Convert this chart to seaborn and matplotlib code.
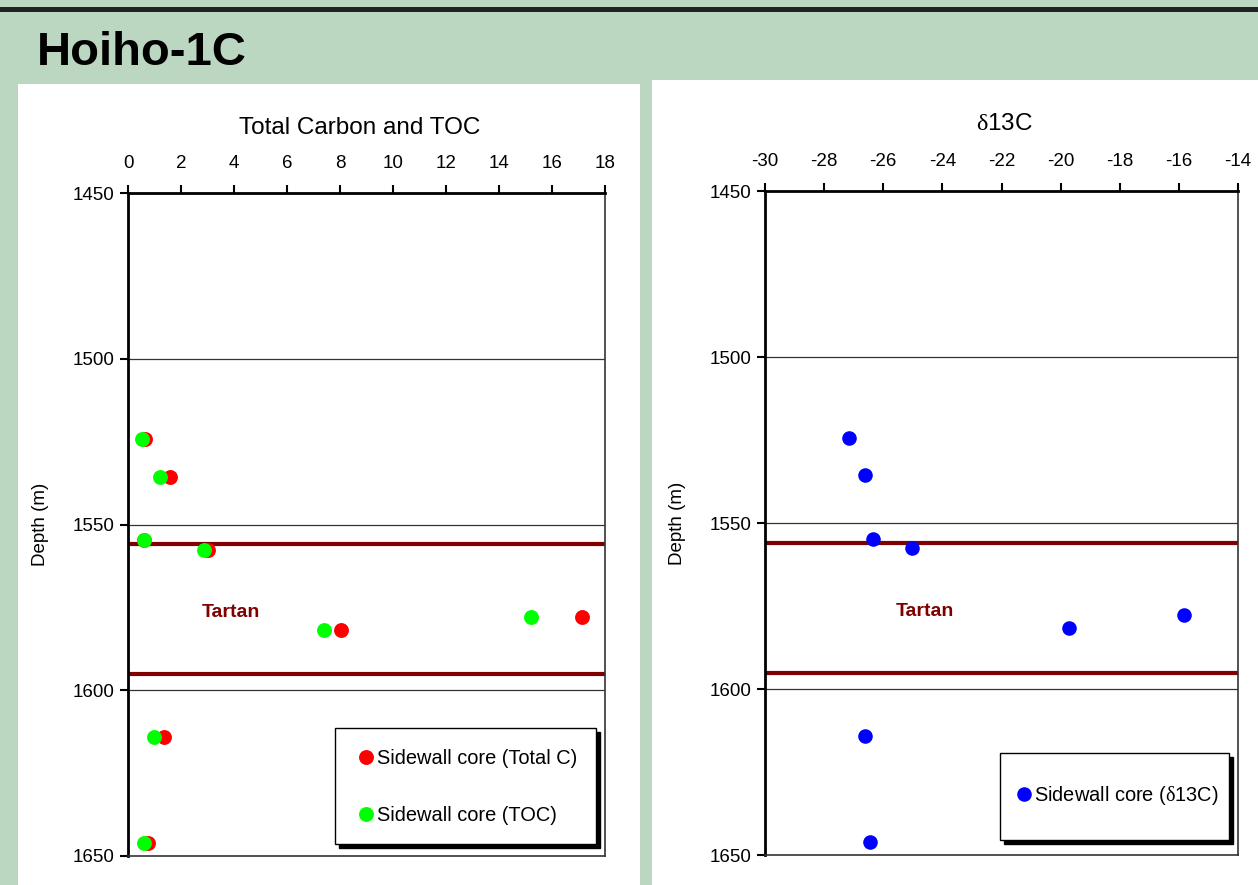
import matplotlib
matplotlib.use("Agg")
import matplotlib.pyplot as plt
from matplotlib.patches import Rectangle
import seaborn as sns
import pandas as pd

# Sidewall core measurements, Hoiho-1C
depth_m = [1524.3, 1535.6, 1554.7, 1557.6, 1581.7, 1577.8, 1614.1, 1646.0]
total_c = [0.64, 1.58, 0.60, 3.02, 8.04, 17.14, 1.37, 0.77]
toc = [0.53, 1.21, 0.60, 2.87, 7.40, 15.21, 0.97, 0.60]
delta13c = [-27.16, -26.62, -26.35, -25.03, -19.72, -15.83, -26.62, -26.45]

# Tartan formation top/base (m)
tartan_top = 1556.0
tartan_base = 1595.2

depth_ticks = [1450, 1500, 1550, 1600, 1650]
carbon_ticks = [0, 2, 4, 6, 8, 10, 12, 14, 16, 18]
delta_ticks = [-30, -28, -26, -24, -22, -20, -18, -16, -14]

sns.set_style("white")
plt.rcParams["font.family"] = ["Liberation Sans", "DejaVu Sans"]
plt.rcParams["mathtext.fontset"] = "custom"
plt.rcParams["mathtext.rm"] = "Liberation Serif"
plt.rcParams["axes.unicode_minus"] = False
plt.rcParams["text.color"] = "black"
plt.rcParams["axes.labelcolor"] = "black"
plt.rcParams["xtick.color"] = "black"
plt.rcParams["ytick.color"] = "black"

BG = "#BBD7C1"
DARK_RED = "#800000"

fig = plt.figure(figsize=(12.58, 8.85), dpi=100, facecolor=BG)
W, H = 1258, 885


def fx(px):
    return px / W


def fy(py):
    return 1 - py / H


# page furniture: header rule and white panels
for rect in (
    Rectangle((0, fy(12)), 1, fy(7) - fy(12), facecolor="#222222"),
    Rectangle((fx(18), 0), fx(640) - fx(18), fy(84), facecolor="white"),
    Rectangle((fx(652), 0), 1 - fx(652), fy(80), facecolor="white"),
):
    rect.set_transform(fig.transFigure)
    rect.set_edgecolor("none")
    rect.set_zorder(-5)
    fig.patches.append(rect)

fig.text(fx(37), fy(65), "Hoiho-1C", fontsize=34, fontweight="bold", color="black",
         ha="left", va="baseline")

ax1 = fig.add_axes([fx(128), fy(856), fx(605) - fx(128), fy(193) - fy(856)])
ax2 = fig.add_axes([fx(765), fy(855), fx(1238) - fx(765), fy(191) - fy(855)])

df = pd.DataFrame({"depth": depth_m, "total_c": total_c, "toc": toc, "d13c": delta13c})

sns.scatterplot(data=df, x="total_c", y="depth", ax=ax1, color="#FF0000", s=115,
                linewidth=0, label="Sidewall core (Total C)", zorder=5)
sns.scatterplot(data=df, x="toc", y="depth", ax=ax1, color="#00FF00", s=115,
                linewidth=0, label="Sidewall core (TOC)", zorder=6)
sns.scatterplot(data=df, x="d13c", y="depth", ax=ax2, color="#0000FF", s=110,
                linewidth=0, label=r"Sidewall core ($\mathrm{\delta}$13C)", zorder=5)


def style_axis(ax, xlim, xticks):
    ax.set_xlim(*xlim)
    ax.set_ylim(1650, 1450)
    ax.set_xticks(xticks)
    ax.set_yticks(depth_ticks)
    ax.xaxis.tick_top()
    ax.tick_params(axis="both", which="major", direction="out", length=6, width=1.5,
                   color="black", labelsize=13.5, pad=4)
    ax.tick_params(axis="x", top=True, bottom=False, labeltop=True, labelbottom=False,
                   pad=9)
    ax.tick_params(axis="y", left=True, right=False)
    ax.set_xlabel("")
    ax.set_ylabel("Depth (m)", fontsize=13.5)
    ax.yaxis.set_label_coords(-0.166, 0.5)
    for d in depth_ticks[1:-1]:
        ax.axhline(d, color="#333333", lw=0.9, zorder=1)
    for d in (tartan_top, tartan_base):
        ax.axhline(d, color=DARK_RED, lw=3.0, zorder=2)
    ax.spines["left"].set_linewidth(2)
    ax.spines["top"].set_linewidth(2)
    ax.spines["left"].set_color("black")
    ax.spines["top"].set_color("black")
    for s in ("right", "bottom"):
        ax.spines[s].set_linewidth(1.2)
        ax.spines[s].set_color("#333333")
    ax.set_facecolor("white")


style_axis(ax1, (0, 18), carbon_ticks)
style_axis(ax2, (-30, -14), delta_ticks)

ax1.text(3.9, 1576.5, "Tartan", color=DARK_RED, fontsize=14, fontweight="bold",
         ha="center", va="center")
ax2.text(-24.6, 1576.8, "Tartan", color=DARK_RED, fontsize=14, fontweight="bold",
         ha="center", va="center")

fig.text(fx(360), fy(128), "Total Carbon and TOC", fontsize=17.5, ha="center", va="center")
fig.text(fx(1004), fy(124), r"$\mathrm{\delta}$13C", fontsize=17.5, ha="center", va="center")

shadow = {"ox": 3, "oy": -3, "color": "black", "alpha": 1.0}
leg1 = ax1.legend(loc="upper left", bbox_to_anchor=(fx(335), fy(728)),
                  bbox_transform=fig.transFigure, borderaxespad=0, fontsize=14.4,
                  frameon=True, fancybox=False, shadow=shadow, framealpha=1,
                  edgecolor="black", borderpad=0.96, handlelength=1.18,
                  handletextpad=-0.05, labelspacing=1.78, handleheight=1.2,
                  scatteryoffsets=[0.35])
leg1.get_frame().set_linewidth(1.0)
leg2 = ax2.legend(loc="upper left", bbox_to_anchor=(fx(1000), fy(753)),
                  bbox_transform=fig.transFigure, borderaxespad=0, fontsize=14.4,
                  frameon=True, fancybox=False, shadow=shadow, framealpha=1,
                  edgecolor="black", borderpad=0.5, handlelength=1.35,
                  handletextpad=-0.15, handleheight=4.78, scatteryoffsets=[0.105])
leg2.get_frame().set_linewidth(1.0)

fig.savefig("out.png", dpi=100, facecolor=BG)
